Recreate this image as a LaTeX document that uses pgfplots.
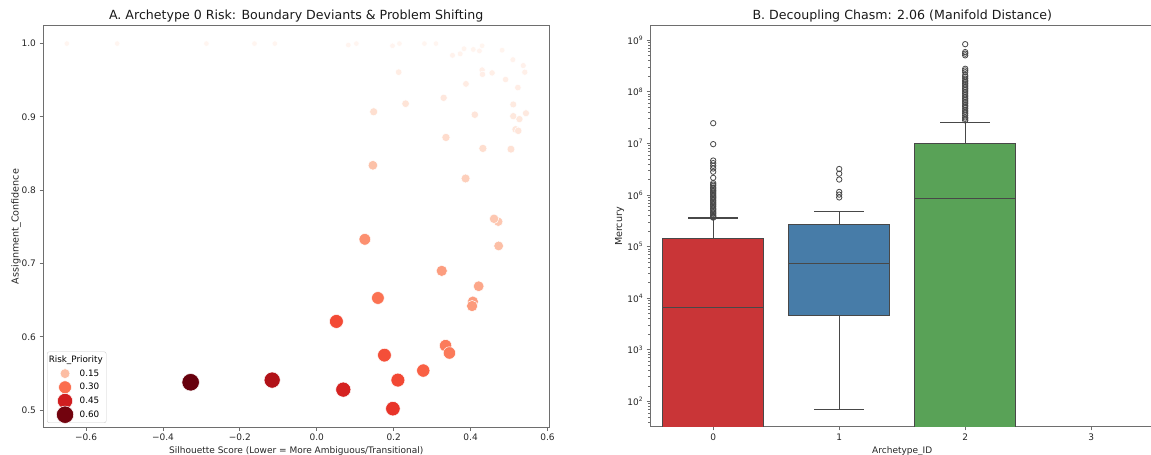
\documentclass[border=0pt]{standalone}
\usepackage{pgfplots}
\pgfplotsset{compat=1.18}
\usepackage{fontspec}
\setmainfont{DejaVu Sans}
\definecolor{boxred}{RGB}{201,53,55}
\definecolor{boxblue}{RGB}{71,124,168}
\definecolor{boxgreen}{RGB}{89,162,87}
\definecolor{boxline}{RGB}{72,72,72}
\definecolor{spine}{RGB}{110,110,110}
\definecolor{leg1}{RGB}{252,189,163}
\definecolor{leg2}{RGB}{251,110,78}
\definecolor{leg3}{RGB}{208,29,31}
\definecolor{leg4}{RGB}{114,3,14}
\pgfplotsset{
  common/.style={
    scale only axis,
    anchor=south west,
    tick pos=left,
    tick align=outside,
    major tick length=3.5pt,
    minor tick length=2pt,
    every tick/.style={spine, line width=0.8pt},
    axis line style={spine, line width=1pt},
    /pgf/number format/assume math mode=true,
    tick label style={font=\fontsize{9}{11}\selectfont, text=black!85},
    xlabel style={font=\fontsize{9}{11}\selectfont, text=black!85},
    ylabel style={font=\fontsize{9.6}{11}\selectfont, text=black!85},
    title style={font=\fontsize{12.6}{14}\selectfont, text=black!90, yshift=-6pt},
  },
  bx/.style={draw=boxline, line width=1.1pt},
  fl/.style={only marks, mark=o, mark size=2.7pt, mark options={draw=boxline, line width=0.8pt}},
  legmark/.style 2 args={legend image code/.code={\path[draw=none, fill=none] (0pt,-3pt) rectangle (29pt,3pt);
    \begin{pgfinterruptboundingbox}\path[draw=none, fill=none] plot[only marks, mark=*, mark size=#1, mark options={fill=#2, draw=white, line width=0.5pt, fill opacity=1, draw opacity=1, solid}] coordinates {(15.8pt,0pt)};\end{pgfinterruptboundingbox}}},
}
\begin{document}
\begin{tikzpicture}[x=1pt,y=1pt]
\useasboundingbox (0,0) rectangle (1151,455);
% ---------------- Panel A ----------------
\begin{axis}[common,
  at={(43pt,28pt)}, width=506.4pt, height=401pt,
  xmin=-0.712, xmax=0.605, ymin=0.477, ymax=1.024,
  xtick={-0.6,-0.4,-0.2,0,0.2,0.4,0.6},
  xticklabels={−0.6,−0.4,−0.2,0.0,0.2,0.4,0.6},
  ytick={0.5,0.6,0.7,0.8,0.9,1.0},
  yticklabels={0.5,0.6,0.7,0.8,0.9,1.0},
  title={A. Archetype 0 Risk: Boundary Deviants \& Problem Shifting},
  xlabel={Silhouette Score (Lower = More Ambiguous/Transitional)},
  ylabel={Assignment\_Confidence},
  xlabel shift=-1.5pt, ylabel shift=-6pt,
  colormap={reds}{rgb255=(255,245,240) rgb255=(254,224,210) rgb255=(252,187,161) rgb255=(252,146,114) rgb255=(251,106,74) rgb255=(239,59,44) rgb255=(203,24,29) rgb255=(165,15,21) rgb255=(103,0,13)},
  point meta min=0, point meta max=0.6135,
  legend style={at={(0.008,0.01)}, anchor=south west, draw=black!20, rounded corners=2pt,
    fill=white, fill opacity=0.8, text opacity=1, font=\fontsize{8.8}{10}\selectfont,
    inner xsep=2pt, inner ysep=2.6pt, row sep=2.7pt, column sep=0pt,
    nodes={inner sep=1.5pt, text height=6.5pt, text depth=1.5pt}},
  legend cell align=left,
]
\addplot[scatter, only marks, mark=*, scatter src=explicit, line width=0.5pt,
  scatter/use mapped color={draw=white, fill=mapped color},
  visualization depends on={\thisrow{r} \as \risk},
  scatter/@pre marker code/.append style={/tikz/mark size={0.5*sqrt(30.25+449.5*\risk)}},
  forget plot]
table[x=x, y=y, meta=r] {
x y r
-0.650 1.000 0
-0.519 1.000 0
-0.287 1.000 0
-0.162 1.000 0
-0.109 1.000 0
0.103 1.000 0
0.215 1.000 0
0.280 1.000 0
0.310 1.000 0
0.430 0.997 0.0017
0.082 0.998 0.0018
0.197 0.997 0.0024
0.383 0.993 0.0043
0.407 0.992 0.0047
0.482 0.991 0.0047
0.423 0.990 0.0058
0.373 0.986 0.0088
0.353 0.984 0.0104
0.510 0.978 0.0108
0.537 0.970 0.0139
0.541 0.961 0.0179
0.430 0.964 0.0205
0.456 0.960 0.0218
0.431 0.958 0.0239
0.491 0.951 0.0249
0.523 0.940 0.0286
0.213 0.961 0.0307
0.388 0.945 0.0337
0.511 0.917 0.0406
0.544 0.905 0.0433
0.511 0.901 0.0484
0.527 0.897 0.0487
0.330 0.926 0.0496
0.517 0.883 0.0565
0.524 0.881 0.0566
0.411 0.903 0.0571
0.231 0.918 0.0631
0.505 0.856 0.0713
0.148 0.907 0.0792
0.432 0.857 0.0812
0.336 0.872 0.0850
0.387 0.816 0.1128
0.472 0.757 0.1283
0.461 0.761 0.1288
0.146 0.834 0.1418
0.473 0.724 0.1455
0.421 0.669 0.1916
0.406 0.648 0.2091
0.325 0.690 0.2093
0.404 0.642 0.2134
0.125 0.733 0.2336
0.335 0.588 0.2740
0.345 0.578 0.2764
0.159 0.653 0.2918
0.277 0.554 0.3225
0.176 0.575 0.3502
0.051 0.621 0.3597
0.211 0.541 0.3622
0.198 0.502 0.3994
0.069 0.528 0.4394
-0.116 0.541 0.5122
-0.328 0.538 0.6135
};
\addlegendimage{empty legend}
\addlegendentry{\hspace*{-31pt}Risk\_Priority}
\addlegendimage{legmark={4.94pt}{leg1}}
\addlegendentry{0.15}
\addlegendimage{legmark={6.43pt}{leg2}}
\addlegendentry{0.30}
\addlegendimage{legmark={7.62pt}{leg3}}
\addlegendentry{0.45}
\addlegendimage{legmark={8.66pt}{leg4}}
\addlegendentry{0.60}
\end{axis}
% ---------------- Panel B ----------------
\begin{axis}[common,
  at={(650.2pt,28pt)}, width=504pt, height=401pt,
  xmin=-0.5, xmax=3.5, ymode=log, log basis y=10,
  ymin=32, ymax=1.89e9,
  xtick={0,1,2,3}, xticklabels={0,1,2,3},
  ytick={1e2,1e3,1e4,1e5,1e6,1e7,1e8,1e9},
  yticklabels={10\textsuperscript{2},10\textsuperscript{3},10\textsuperscript{4},10\textsuperscript{5},10\textsuperscript{6},10\textsuperscript{7},10\textsuperscript{8},10\textsuperscript{9}},
  minor ytick={40,50,60,70,80,90,200,300,400,500,600,700,800,900,2000,3000,4000,5000,6000,7000,8000,9000,2e4,3e4,4e4,5e4,6e4,7e4,8e4,9e4,2e5,3e5,4e5,5e5,6e5,7e5,8e5,9e5,2e6,3e6,4e6,5e6,6e6,7e6,8e6,9e6,2e7,3e7,4e7,5e7,6e7,7e7,8e7,9e7,2e8,3e8,4e8,5e8,6e8,7e8,8e8,9e8},
  title={B. Decoupling Chasm: 2.06 (Manifold Distance)},
  xlabel={Archetype\_ID},
  ylabel={Mercury},
  xlabel shift=-1.5pt, ylabel shift=-3.5pt,
]
% Archetype 0
\addplot[bx, fill=boxred] coordinates {(-0.4,10) (0.4,10) (0.4,1.45e5) (-0.4,1.45e5) (-0.4,10)};
\addplot[bx] coordinates {(0,1.45e5) (0,3.6e5)};
\addplot[bx] coordinates {(-0.2,3.6e5) (0.2,3.6e5)};
\addplot[bx] coordinates {(-0.4,6700) (0.4,6700)};
\addplot[fl] coordinates {(0,2.47e7) (0,9.7e6) (0,4.67e6) (0,4.16e6) (0,3.69e6) (0,3.27e6) (0,2.83e6) (0,2.16e6) (0,1.71e6) (0,1.6e6) (0,1.51e6) (0,1.4e6) (0,1.34e6) (0,1.25e6) (0,1.19e6) (0,1.12e6) (0,1.06e6) (0,1.0e6) (0,9.4e5) (0,8.9e5) (0,8.4e5) (0,7.9e5) (0,7.4e5) (0,7.0e5) (0,6.6e5) (0,6.2e5) (0,5.9e5) (0,5.5e5) (0,5.2e5) (0,4.9e5) (0,4.6e5) (0,4.35e5) (0,4.1e5) (0,3.9e5) (0,3.75e5) (0,3.65e5)};
% Archetype 1
\addplot[bx, fill=boxblue] coordinates {(0.6,4600) (1.4,4600) (1.4,2.67e5) (0.6,2.67e5) (0.6,4600)};
\addplot[bx] coordinates {(1,2.67e5) (1,4.75e5)};
\addplot[bx] coordinates {(0.8,4.75e5) (1.2,4.75e5)};
\addplot[bx] coordinates {(1,4600) (1,71)};
\addplot[bx] coordinates {(0.8,71) (1.2,71)};
\addplot[bx] coordinates {(0.6,4.77e4) (1.4,4.77e4)};
\addplot[fl] coordinates {(1,3.2e6) (1,2.6e6) (1,2.0e6) (1,1.15e6) (1,1.02e6) (1,9.0e5)};
% Archetype 2
\addplot[bx, fill=boxgreen] coordinates {(1.6,10) (2.4,10) (2.4,1.0e7) (1.6,1.0e7) (1.6,10)};
\addplot[bx] coordinates {(2,1.0e7) (2,2.5e7)};
\addplot[bx] coordinates {(1.8,2.5e7) (2.2,2.5e7)};
\addplot[bx] coordinates {(1.6,8.6e5) (2.4,8.6e5)};
\addplot[fl] coordinates {(2,8.4e8) (2,5.9e8) (2,5.5e8) (2,5.1e8) (2,2.8e8) (2,2.6e8) (2,2.4e8) (2,2.1e8) (2,1.95e8) (2,1.8e8) (2,1.65e8) (2,1.56e8) (2,1.45e8) (2,1.35e8) (2,1.25e8) (2,1.16e8) (2,1.08e8) (2,1.0e8) (2,9.3e7) (2,8.6e7) (2,8.0e7) (2,7.4e7) (2,6.9e7) (2,6.4e7) (2,6.0e7) (2,5.5e7) (2,5.2e7) (2,4.8e7) (2,4.4e7) (2,4.1e7) (2,3.8e7) (2,3.5e7) (2,3.2e7) (2,3.0e7) (2,2.8e7)};
\end{axis}
\end{tikzpicture}
\end{document}
